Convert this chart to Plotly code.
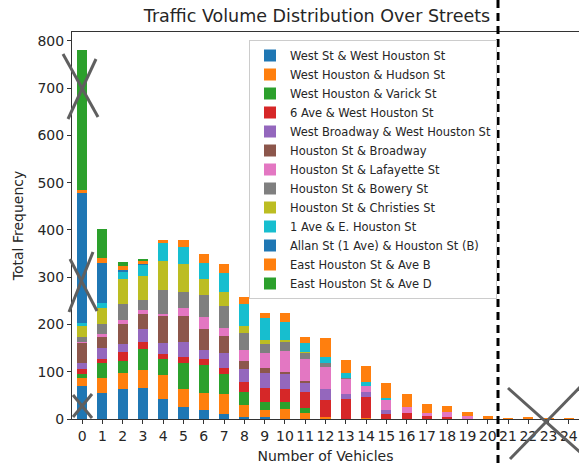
import plotly.graph_objects as go

categories = list(range(25))
tick_labels = [str(c) for c in categories]

series_names = [
    "West St & West Houston St",
    "West Houston & Hudson St",
    "West Houston & Varick St",
    "6 Ave & West Houston St",
    "West Broadway & West Houston St",
    "Houston St & Broadway",
    "Houston St & Lafayette St",
    "Houston St & Bowery St",
    "Houston St & Christies St",
    "1 Ave & E. Houston St",
    "Allan St (1 Ave) & Houston St (B)",
    "East Houston St & Ave B",
    "East Houston St & Ave D",
]

west_st = [70, 56, 63, 66, 42, 26, 18, 10, 4, 4, 1, 0, 0, 0, 0, 0, 0, 0, 0, 0, 0, 0, 0, 0, 0]
hudson = [17, 30, 34, 38, 51, 37, 38, 43, 26, 15, 20, 13, 5, 1, 3, 0, 0, 0, 0, 0, 0, 0, 0, 0, 0]
varick = [8, 32, 26, 44, 35, 56, 58, 42, 28, 18, 16, 11, 0, 0, 0, 0, 0, 0, 0, 0, 0, 0, 0, 0, 0]
six_ave = [11, 8, 18, 16, 9, 12, 14, 12, 20, 28, 26, 33, 35, 41, 43, 10, 13, 6, 5, 1, 2, 0, 0, 0, 0]
w_broadway = [12, 25, 17, 26, 23, 33, 19, 33, 28, 32, 32, 21, 23, 10, 12, 9, 0, 0, 0, 0, 0, 0, 0, 0, 0]
broadway = [43, 23, 42, 32, 58, 55, 43, 36, 17, 10, 5, 2, 0, 0, 0, 0, 0, 0, 0, 0, 0, 0, 0, 0, 0]
lafayette = [3, 6, 10, 9, 4, 15, 25, 16, 23, 32, 44, 47, 46, 33, 12, 23, 12, 7, 9, 5, 0, 0, 0, 0, 0]
bowery = [10, 20, 33, 21, 50, 35, 47, 47, 35, 19, 21, 13, 9, 2, 0, 0, 0, 0, 0, 0, 0, 0, 0, 0, 0]
christies = [23, 34, 53, 51, 62, 58, 34, 30, 16, 9, 2, 2, 0, 0, 0, 0, 0, 0, 0, 0, 0, 0, 0, 0, 0]
first_ave = [7, 11, 16, 23, 38, 36, 35, 41, 46, 47, 39, 18, 13, 10, 9, 3, 0, 0, 0, 0, 0, 0, 0, 0, 0]
allan_st = [276, 86, 3, 2, 0, 0, 0, 0, 0, 0, 0, 0, 0, 0, 0, 0, 0, 0, 0, 0, 0, 0, 0, 0, 0]
ave_b = [4, 10, 9, 7, 7, 16, 18, 18, 16, 11, 19, 14, 40, 27, 33, 32, 27, 19, 14, 9, 4, 2, 3, 1, 2]
ave_d = [296, 61, 8, 4, 0, 0, 0, 0, 0, 0, 0, 0, 0, 0, 0, 0, 0, 0, 0, 0, 0, 0, 0, 0, 0]

series_values = [west_st, hudson, varick, six_ave, w_broadway, broadway, lafayette,
                 bowery, christies, first_ave, allan_st, ave_b, ave_d]

colors = ["#1f77b4", "#ff7f0e", "#2ca02c", "#d62728", "#9467bd", "#8c564b",
          "#e377c2", "#7f7f7f", "#bcbd22", "#17becf", "#1f77b4", "#ff7f0e", "#2ca02c"]

W, H = 579, 465
L, R, T, B = 72, 0, 32, 46
PW, PH = W - L - R, H - T - B

def px(x):
    return (x - L) / PW

def py(y):
    return (H - B - y) / PH

fig = go.Figure()
for name, vals, col in zip(series_names, series_values, colors):
    fig.add_trace(go.Bar(x=categories, y=vals, name=name, width=0.5,
                         marker=dict(color=col, line=dict(width=0))))

font_fam = "DejaVu Sans"
txt = "#262626"

shapes = []
# hand-drawn gray X marks (overlay annotations)
x_marks = [
    [(63, 54), (98, 117), (96, 59), (68, 119)],
    [(93, 252), (69, 312), (70, 259), (97, 311)],
    [(73, 395), (92, 418), (92, 394), (73, 417)],
    [(508, 388), (582, 454), (510, 459), (582, 385)],
]
for a0, a1, b0, b1 in x_marks:
    for p0, p1 in ((a0, a1), (b0, b1)):
        shapes.append(dict(type="line", xref="paper", yref="paper",
                           x0=px(p0[0]), y0=py(p0[1]), x1=px(p1[0]), y1=py(p1[1]),
                           line=dict(color="#5f5f5f", width=3), layer="above"))
# dashed vertical separator
shapes.append(dict(type="line", xref="paper", yref="paper",
                   x0=px(498), x1=px(498), y0=py(0), y1=py(465),
                   line=dict(color="black", width=3, dash="8px,5px"), layer="above"))

fig.update_layout(
    width=W, height=H,
    margin=dict(l=L, r=R, t=T, b=B, autoexpand=False),
    barmode="stack",
    paper_bgcolor="white", plot_bgcolor="white",
    font=dict(family=font_fam, size=14, color=txt),
    title=dict(text="Traffic Volume Distribution Over Streets",
               xref="container", x=317 / W, xanchor="center",
               y=1 - 16 / H, yanchor="middle",
               font=dict(family=font_fam, size=17.5, color=txt)),
    xaxis=dict(range=[-0.5, 24.5], tickmode="array", tickvals=categories,
               ticktext=tick_labels, showline=True, linecolor="#333", linewidth=1,
               mirror=True, ticks="outside", ticklen=4, tickcolor="#333",
               showgrid=False, zeroline=False, automargin=False,
               tickfont=dict(size=14, color=txt),
               title=dict(text="Number of Vehicles", standoff=8,
                          font=dict(size=14, color=txt))),
    yaxis=dict(range=[0, 819], tickmode="array", tickvals=list(range(0, 801, 100)),
               showline=True, linecolor="#333", linewidth=1, mirror=False,
               ticks="outside", ticklen=4, tickcolor="#333",
               showgrid=False, zeroline=False, automargin=False,
               tickfont=dict(size=14, color=txt),
               title=dict(text="Total Frequency", standoff=10,
                          font=dict(size=14, color=txt))),
    legend=dict(x=px(249), y=py(40), xanchor="left", yanchor="top",
                traceorder="normal", bgcolor="white", bordercolor="#cccccc",
                borderwidth=1, font=dict(family=font_fam, size=11.5, color=txt),
                itemwidth=30),
    shapes=shapes,
    showlegend=True,
)

fig.write_html("out.html", config={"displayModeBar": False},
               post_script="document.body.style.margin='0';document.body.style.overflow='hidden';")
